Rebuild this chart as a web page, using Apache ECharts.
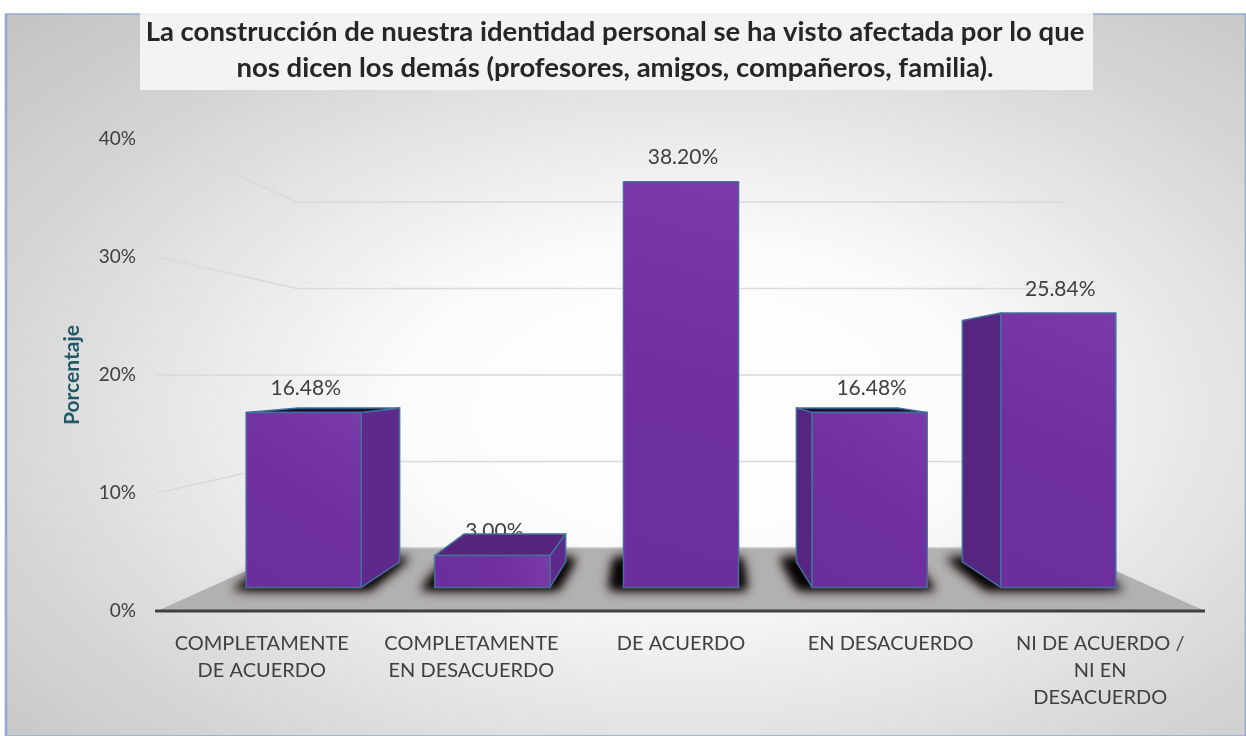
<!DOCTYPE html>
<html>
<head>
<meta charset="utf-8">
<script src="https://cdn.jsdelivr.net/npm/echarts@6/dist/echarts.min.js"></script>
<style>
  html, body { margin: 0; padding: 0; background: #fff; }
  #main { width: 1246px; height: 736px; }
</style>
</head>
<body>
<div id="main"></div>
<script>
var titleText = 'La construcción de nuestra identidad personal se ha visto afectada por lo que\nnos dicen los demás (profesores, amigos, compañeros, familia).';
var categories = ['COMPLETAMENTE\nDE ACUERDO', 'COMPLETAMENTE\nEN DESACUERDO', 'DE ACUERDO', 'EN DESACUERDO', 'NI DE ACUERDO /\nNI EN\nDESACUERDO'];
var percentages = [16.48, 3.00, 38.20, 16.48, 25.84];
var yTicks = [0, 10, 20, 30, 40];
var yAxisName = 'Porcentaje';

// fake 3d: depth of each plane (1 = front edge of the floor), eye at grid centre
var S_BAR_FRONT = 0.9, S_BAR_BACK = 0.792, S_WALL = 0.733;
var BAR_RATIO = 0.61;
var FONT = 'Lato, "Open Sans", sans-serif';
var SHADOW_SHIFT = 3000; // draw the shape off screen, keep only its blurred shadow

function eye(params) {
  var cs = params.coordSys;
  return [cs.x + cs.width / 2, cs.y + cs.height / 2];
}
function toDepth(pt, v, s) {
  return [v[0] + (pt[0] - v[0]) * s, v[1] + (pt[1] - v[1]) * s];
}

function renderWall(params, api) {
  var cs = params.coordSys, v = eye(params);
  var val = api.value(1);
  var y = api.coord([0, val])[1];
  var fl = [cs.x, y], fr = [cs.x + cs.width, y];
  var bl = toDepth(fl, v, S_WALL), br = toDepth(fr, v, S_WALL);
  if (val === 0) {
    // floor
    return {
      type: 'group',
      children: [
        { type: 'polygon', shape: { points: [fl, fr, br, bl] }, style: { fill: '#b1b1b1' } },
        { type: 'line', shape: { x1: bl[0], y1: bl[1], x2: br[0], y2: br[1] }, style: { stroke: '#c8c8c8', lineWidth: 1.5 } },
        { type: 'line', shape: { x1: fl[0] - 2, y1: fl[1], x2: fr[0], y2: fr[1] }, style: { stroke: '#404040', lineWidth: 3 } }
      ]
    };
  }
  return {
    type: 'polyline',
    shape: { points: [fl, bl, br] },
    style: { stroke: '#d9d9d9', lineWidth: 1.5, fill: null }
  };
}

function shadowShape(pts, blur, color) {
  return {
    type: 'polygon',
    shape: { points: pts.map(function (p) { return [p[0] + SHADOW_SHIFT, p[1]]; }) },
    style: { fill: '#000', shadowBlur: blur, shadowColor: color, shadowOffsetX: -SHADOW_SHIFT, shadowOffsetY: 0 }
  };
}

function renderBar(params, api) {
  var v = eye(params);
  var idx = api.value(0), val = api.value(1);
  var top = api.coord([idx, val]), base = api.coord([idx, 0]);
  var hw = api.size([1, 0])[0] * BAR_RATIO / 2;
  var xl = top[0] - hw, xr = top[0] + hw;
  function P(x, y, s) { return toDepth([x, y], v, s); }
  var ftl = P(xl, top[1], S_BAR_FRONT), ftr = P(xr, top[1], S_BAR_FRONT);
  var fbl = P(xl, base[1], S_BAR_FRONT), fbr = P(xr, base[1], S_BAR_FRONT);
  var btl = P(xl, top[1], S_BAR_BACK), btr = P(xr, top[1], S_BAR_BACK);
  var bbl = P(xl, base[1], S_BAR_BACK), bbr = P(xr, base[1], S_BAR_BACK);
  var edge = '#41719c';
  var children = [];

  // soft dark shadow on the floor around the foot of the box
  var foot = [[fbl[0] - 14, fbl[1] + 2], [fbr[0] + 8, fbr[1] + 2], [bbr[0] + 10, bbr[1] - 4], [bbl[0] - 16, bbl[1] - 4]];
  children.push(shadowShape(foot, 14, 'rgba(40,10,8,0.9)'));
  children.push(shadowShape(foot, 8, 'rgba(0,0,0,0.9)'));
  // value label (drawn first so the box can cover it, like the original)
  children.push({
    type: 'text',
    style: {
      text: val.toFixed(2) + '%',
      x: (ftl[0] + ftr[0]) / 2 + 2,
      y: ftl[1] - 24,
      align: 'center',
      verticalAlign: 'middle',
      font: '21px ' + FONT,
      fill: '#404040'
    }
  });
  if (xr < v[0]) {
    children.push({ type: 'polygon', shape: { points: [ftr, btr, bbr, fbr] },
      style: { fill: '#5f298c', stroke: edge, lineWidth: 1.5, lineJoin: 'round' } });
  }
  if (xl > v[0]) {
    children.push({ type: 'polygon', shape: { points: [ftl, btl, bbl, fbl] },
      style: { fill: '#55257f', stroke: edge, lineWidth: 1.5, lineJoin: 'round' } });
  }
  if (top[1] > v[1]) {
    var thick = ftl[1] - btl[1];
    children.push({ type: 'polygon', shape: { points: [ftl, ftr, btr, btl] },
      style: { fill: thick < 8 ? '#1c1232' : '#55257e', stroke: edge, lineWidth: 1.5, lineJoin: 'round' } });
  }
  children.push({
    type: 'polygon',
    shape: { points: [ftl, ftr, fbr, fbl] },
    style: {
      fill: new echarts.graphic.LinearGradient(0, 1, 1, 0, [
        { offset: 0, color: '#6c2e9c' },
        { offset: 0.6, color: '#7030a0' },
        { offset: 1, color: '#7a3aa8' }
      ]),
      stroke: edge, lineWidth: 1.5, lineJoin: 'round'
    }
  });
  return { type: 'group', children: children };
}

var chart = echarts.init(document.getElementById('main'));

var option = {
  animation: false,
  graphic: [
    {
      type: 'rect',
      x: 6, y: 14,
      scaleX: 1240 / 722,
      shape: { x: 0, y: 0, width: 722, height: 722 },
      style: {
        fill: new echarts.graphic.RadialGradient(0.55, 0.55, 0.78, [
          { offset: 0, color: '#ffffff' },
          { offset: 0.3, color: '#fbfbfb' },
          { offset: 0.72, color: '#d6d6d6' },
          { offset: 1, color: '#c2c2c2' }
        ]),
        stroke: '#8eaadb',
        lineWidth: 1.5,
        strokeNoScale: true
      },
      z: -10
    },
    {
      type: 'rect',
      shape: { x: 140, y: 13, width: 953, height: 77 },
      style: { fill: '#f3f3f3' },
      z: -5
    },
    {
      type: 'text',
      x: 615, y: 50,
      style: {
        text: titleText,
        align: 'center',
        verticalAlign: 'middle',
        font: 'bold 27.5px ' + FONT,
        lineHeight: 36,
        fill: '#262626'
      },
      z: -4
    }
  ],
  grid: { left: 157, right: 41, top: 139, bottom: 125 },
  xAxis: {
    type: 'category',
    data: categories,
    axisLine: { show: false },
    axisTick: { show: false },
    axisLabel: { margin: 19, fontSize: 20, lineHeight: 27, color: '#404040', fontFamily: FONT, interval: 0 }
  },
  yAxis: {
    type: 'value',
    min: 0, max: 40, interval: 10,
    name: yAxisName,
    nameLocation: 'middle',
    nameRotate: 90,
    nameGap: 74,
    nameTextStyle: { fontSize: 21, fontWeight: 'bold', color: '#215968', fontFamily: FONT },
    axisLine: { show: false },
    axisTick: { show: false },
    splitLine: { show: false },
    axisLabel: { formatter: '{value}%', margin: 21, fontSize: 19, color: '#404040', fontFamily: FONT }
  },
  series: [
    {
      type: 'custom',
      name: 'walls',
      renderItem: renderWall,
      data: yTicks.map(function (t) { return [0, t]; }),
      encode: { x: 0, y: 1 },
      clip: false,
      silent: true,
      z: 1
    },
    {
      type: 'custom',
      name: 'Porcentaje',
      renderItem: renderBar,
      data: percentages.map(function (p, i) { return [i, p]; }),
      encode: { x: 0, y: 1 },
      clip: false,
      z: 2
    }
  ]
};

chart.setOption(option);
</script>
</body>
</html>
